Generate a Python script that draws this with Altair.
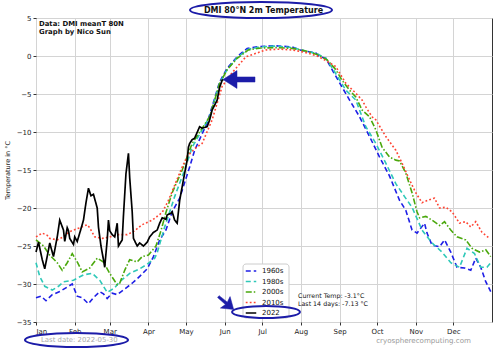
import altair as alt
import pandas as pd

# ---------------- data ----------------
MONTHS = ['Jan', 'Feb', 'Mar', 'Apr', 'May', 'Jun', 'Jul', 'Aug', 'Sep', 'Oct', 'Nov', 'Dec']
MONTH_START_DAYS = [0, 31, 59, 90, 120, 151, 181, 212, 243, 273, 304, 334]
Y_TICKS = [-35, -30, -25, -20, -15, -10, -5, 0, 5]
SERIES = ['1960s', '1980s', '2000s', '2010s', '2022']

D1960_DAYS = [0, 4, 8, 13, 19, 25, 29, 33, 37, 42, 46, 51, 54, 57, 61, 65, 69, 73, 77, 83,
              89, 94, 99, 104, 109, 115, 123, 127, 137, 147, 153, 161, 169, 179, 190, 205, 211, 224, 227, 232,
              237, 245, 251, 259, 267, 275, 283, 291, 296, 301, 305, 311, 313, 317, 323, 327, 332, 337, 343, 348,
              352, 356, 360, 364]
D1960_VALS = [-31.8, -31.6, -32.2, -31.4, -31.0, -30.4, -30.0, -31.6, -31.8, -32.6, -31.8, -31.0, -31.3, -31.9, -31.2, -31.4, -30.9, -30.4, -29.9, -29.0,
              -28.0, -26.4, -24.2, -22.9, -20.5, -18.7, -14.6, -12.4, -8.8, -3.4, -1.6, -0.1, 1.0, 1.25, 1.35, 1.2, 0.8, 0.4, -0.1, -0.3,
              -1.8, -4.1, -5.8, -8.0, -10.6, -13.3, -15.8, -19.0, -20.3, -22.9, -23.3, -22.0, -23.3, -24.9, -25.1, -24.2, -25.8, -27.8, -27.9, -28.2,
              -26.6, -27.8, -29.7, -31.0]

D1980_DAYS = [0, 3, 7, 13, 18, 22, 30, 38, 45, 51, 57, 63, 67, 75, 83, 89, 95, 97, 103, 111,
              119, 125, 139, 147, 153, 161, 170, 180, 192, 205, 215, 225, 232, 238, 248, 256, 264, 272, 280, 288,
              295, 301, 309, 317, 325, 332, 339, 345, 351, 356, 361, 364]
D1980_VALS = [-27.2, -29.0, -30.3, -30.8, -30.3, -29.7, -29.5, -28.8, -28.6, -29.5, -31.1, -30.5, -29.7, -28.6, -28.0, -27.4, -26.6, -25.9, -22.5, -18.5,
              -15.0, -12.0, -8.0, -3.6, -1.8, -0.2, 0.9, 1.2, 1.3, 1.1, 0.7, 0.3, -0.3, -1.8, -4.5, -5.8, -9.3, -11.5, -14.1, -16.8,
              -18.5, -19.9, -22.9, -24.6, -25.8, -27.2, -27.8, -25.3, -26.0, -27.8, -27.8, -27.2]

D2000_DAYS = [0, 6, 11, 17, 21, 25, 29, 33, 37, 43, 49, 54, 59, 65, 67, 71, 75, 81, 85, 90,
              96, 100, 104, 109, 117, 125, 139, 147, 153, 161, 170, 180, 192, 205, 215, 225, 233, 240, 245, 251,
              256, 261, 267, 272, 277, 283, 288, 291, 296, 301, 305, 307, 312, 317, 323, 327, 332, 337, 344, 349,
              355, 360, 364]
D2000_VALS = [-24.2, -25.0, -26.2, -27.2, -28.2, -27.2, -26.0, -27.1, -28.4, -27.9, -26.6, -27.1, -28.6, -30.1, -29.9, -28.2, -26.8, -27.1, -26.4, -26.2,
              -25.0, -23.0, -20.6, -18.0, -15.0, -11.5, -8.0, -3.6, -1.8, -0.3, 0.8, 1.05, 1.1, 1.0, 0.7, 0.2, -0.5, -1.8, -3.2, -4.5,
              -5.4, -7.1, -8.0, -9.7, -12.0, -13.3, -13.7, -13.8, -15.4, -18.0, -20.5, -21.3, -21.1, -21.6, -22.3, -21.8, -22.9, -23.8, -24.2, -25.3,
              -25.8, -25.5, -26.4]

D2010_DAYS = [0, 5, 9, 11, 17, 22, 27, 35, 41, 43, 47, 53, 59, 66, 73, 78, 85, 93, 101, 106,
              111, 116, 121, 127, 133, 141, 149, 157, 168, 184, 195, 205, 215, 225, 232, 240, 248, 256, 261, 264,
              269, 272, 280, 288, 293, 299, 304, 309, 315, 319, 323, 328, 333, 339, 344, 348, 352, 357, 363]
D2010_VALS = [-23.8, -23.3, -23.6, -24.0, -24.2, -23.8, -23.1, -22.6, -22.2, -22.6, -23.8, -24.0, -23.8, -23.5, -23.5, -23.1, -22.2, -21.6, -20.6, -19.0,
              -17.0, -15.0, -13.2, -12.2, -11.5, -8.4, -4.0, -2.2, -0.1, 0.8, 0.9, 0.8, 0.5, 0.0, -0.6, -1.4, -3.6, -4.9, -5.8, -6.7,
              -8.0, -8.4, -10.6, -12.4, -14.1, -16.3, -18.0, -19.3, -18.9, -18.7, -20.0, -19.9, -20.5, -22.0, -21.8, -22.5, -21.8, -23.2, -24.0]

D2022_DAYS = [0, 2, 5, 7, 10, 11, 14, 17, 19, 22, 23, 25, 26, 27, 30, 31, 33, 35, 38, 40,
              42, 44, 46, 47, 49, 50, 52, 54, 55, 57, 58, 59, 61, 63, 65, 66, 69, 70, 72, 74,
              75, 77, 78, 81, 83, 86, 89, 91, 94, 97, 99, 101, 104, 105, 108, 109, 111, 113, 115, 117,
              119, 121, 122, 123, 125, 127, 131, 133, 137, 139, 141, 145, 147, 149, 150]
D2022_VALS = [-25.8, -24.5, -26.8, -28.0, -25.5, -24.6, -26.4, -23.8, -21.6, -22.9, -24.4, -22.6, -23.0, -24.0, -24.8, -23.8, -24.4, -23.3, -21.6, -19.3,
              -17.4, -18.4, -18.2, -18.8, -20.0, -22.5, -25.0, -26.8, -27.8, -24.2, -21.6, -23.0, -23.5, -23.8, -22.0, -25.0, -24.2, -21.0, -15.5, -12.8,
              -16.0, -20.5, -24.0, -25.0, -24.6, -25.0, -24.5, -23.8, -23.2, -22.9, -22.0, -21.3, -21.5, -20.9, -20.7, -20.5, -21.6, -22.0, -19.0, -17.2,
              -15.4, -13.7, -12.0, -11.5, -11.0, -10.8, -9.3, -9.5, -9.3, -8.4, -7.1, -5.8, -4.1, -3.2, -3.1]

TITLE = 'DMI 80°N 2m Temperature'
INFO_LINES = ['Data: DMI meanT 80N', 'Graph by Nico Sun']
CURRENT_LINES = ['Current Temp: -3.1°C', 'Last 14 days: -7.13 °C']
SITE = 'cryospherecomputing.com'
LAST_DATE = 'Last date: 2022-05-30'

# ---------------- styles ----------------
COLORS = ['#1e1ee6', '#2ec8b8', '#4aa80c', '#ff4433', '#000000']
DASHES = [[5, 3], [5, 3], [6, 2, 1.5, 2], [1.8, 2.2], [1, 0]]
MARK_BLUE = '#1c1ca8'
FONT = 'DejaVu Sans'

W, H = 456, 304

rows = []
for name, days, vals in [('1960s', D1960_DAYS, D1960_VALS), ('1980s', D1980_DAYS, D1980_VALS),
                         ('2000s', D2000_DAYS, D2000_VALS), ('2010s', D2010_DAYS, D2010_VALS),
                         ('2022', D2022_DAYS, D2022_VALS)]:
    for d, v in zip(days, vals):
        rows.append({'series': name, 'day': d, 'temp': v})
df = pd.DataFrame(rows)

label_expr = f"{MONTHS}[indexof({MONTH_START_DAYS}, datum.value)]"

x_enc = alt.X('day:Q', scale=alt.Scale(domain=[0, 365], nice=False, zero=False),
              axis=alt.Axis(values=MONTH_START_DAYS, labelExpr=label_expr, title=None))
y_enc = alt.Y('temp:Q', scale=alt.Scale(domain=[-35, 5], nice=False, zero=False),
              axis=alt.Axis(values=Y_TICKS, title='Temperature in °C', format='d'))
color_enc = alt.Color('series:N', scale=alt.Scale(domain=SERIES, range=COLORS), title=None)
dash_enc = alt.StrokeDash('series:N', scale=alt.Scale(domain=SERIES, range=DASHES), title=None)

decades = alt.Chart(df[df.series != '2022']).mark_line(strokeWidth=1.6).encode(
    x=x_enc, y=y_enc, color=color_enc, strokeDash=dash_enc)
cur = alt.Chart(df[df.series == '2022']).mark_line(strokeWidth=1.7).encode(
    x=x_enc, y=y_enc, color=color_enc, strokeDash=dash_enc)


def text_layer(txt, x, y, size=7, weight='normal', color='#111', align='left'):
    return alt.Chart(pd.DataFrame({'t': [txt]})).mark_text(
        align=align, baseline='middle', fontSize=size, fontWeight=weight, color=color, font=FONT
    ).encode(x=alt.value(x), y=alt.value(y), text='t:N')


def ellipse_path(b):
    k = 0.5523
    return (f"M -1 0 C -1 {-k*b:.4f} {-k:.4f} {-b:.4f} 0 {-b:.4f} "
            f"C {k:.4f} {-b:.4f} 1 {-k*b:.4f} 1 0 "
            f"C 1 {k*b:.4f} {k:.4f} {b:.4f} 0 {b:.4f} "
            f"C {-k:.4f} {b:.4f} -1 {k*b:.4f} -1 0 Z")


def ellipse(cx, cy, w, h):
    return alt.Chart(pd.DataFrame({'a': [0]})).mark_point(
        shape=ellipse_path(h / w), size=w * w, filled=False, stroke=MARK_BLUE,
        strokeWidth=2, opacity=1
    ).encode(x=alt.value(cx), y=alt.value(cy))


ARROW = "M -1 0 L -0.125 -0.56 L -0.125 -0.16 L 1 -0.16 L 1 0.16 L -0.125 0.16 L -0.125 0.56 Z"
SMALL_ARROW = "M -1 0 L 0.1 -0.75 L -0.05 -0.15 L 1 -0.12 L 1 0.12 L -0.05 0.15 L 0.1 0.75 Z"


def arrow(cx, cy, length, angle, path):
    return alt.Chart(pd.DataFrame({'a': [0]})).mark_point(
        shape=path, size=length * length, filled=True, fill=MARK_BLUE, stroke=MARK_BLUE,
        strokeWidth=0.5, opacity=1, angle=angle
    ).encode(x=alt.value(cx), y=alt.value(cy))


# white legend box drawn beneath the (transparent) legend and the ellipse
legend_box = alt.Chart(pd.DataFrame({'a': [0]})).mark_rect(
    fill='white', stroke='#cccccc', strokeWidth=1, cornerRadius=3
).encode(x=alt.value(207), x2=alt.value(253), y=alt.value(246), y2=alt.value(300))

layers = [
    decades, cur,
    legend_box,
    text_layer(TITLE, 227.5, -7, size=8, weight='bold', align='center'),
    ellipse(225, -8, 142, 16),
    text_layer(INFO_LINES[0], 3, 6, size=6.9, weight='bold'),
    text_layer(INFO_LINES[1], 3, 13.5, size=6.9, weight='bold'),
    text_layer(CURRENT_LINES[0], 262, 278, size=6.3),
    text_layer(CURRENT_LINES[1], 262, 286, size=6.3),
    text_layer(SITE, 435, 323, size=7.1, color='#999999', align='right'),
    text_layer(LAST_DATE, 5, 322, size=6.9, color='#aaaaaa'),
    ellipse(40.5, 322, 103, 14),
    ellipse(230, 294, 68, 12),
    arrow(203, 61.5, 32, 0, ARROW),
    arrow(190, 285, 20, 220, SMALL_ARROW),
]

chart = alt.layer(*layers).properties(
    width=W, height=H,
    autosize=alt.AutoSizeParams(type='none'),
    padding={'left': 36, 'top': 18, 'right': 8, 'bottom': 28},
    background='white',
).configure_view(
    stroke='#333333', strokeWidth=1
).configure_axis(
    grid=True, gridColor='#d4d4d4', gridWidth=1, domain=False,
    tickColor='#333333', tickSize=3, labelPadding=2,
    labelFont=FONT, labelFontSize=7, labelColor='#222222',
    titleFont=FONT, titleFontSize=6.5, titleFontWeight='normal', titleColor='#222222', titlePadding=6
).configure_legend(
    orient='none', legendX=209, legendY=247, padding=0, rowPadding=1.5,
    strokeColor='transparent', fillColor='transparent',
    symbolType='stroke', symbolSize=110, symbolStrokeWidth=1.5,
    labelFont=FONT, labelFontSize=7, labelColor='#111111', labelOffset=5
)

chart.save('out.html', embed_options={'renderer': 'svg', 'actions': False})
